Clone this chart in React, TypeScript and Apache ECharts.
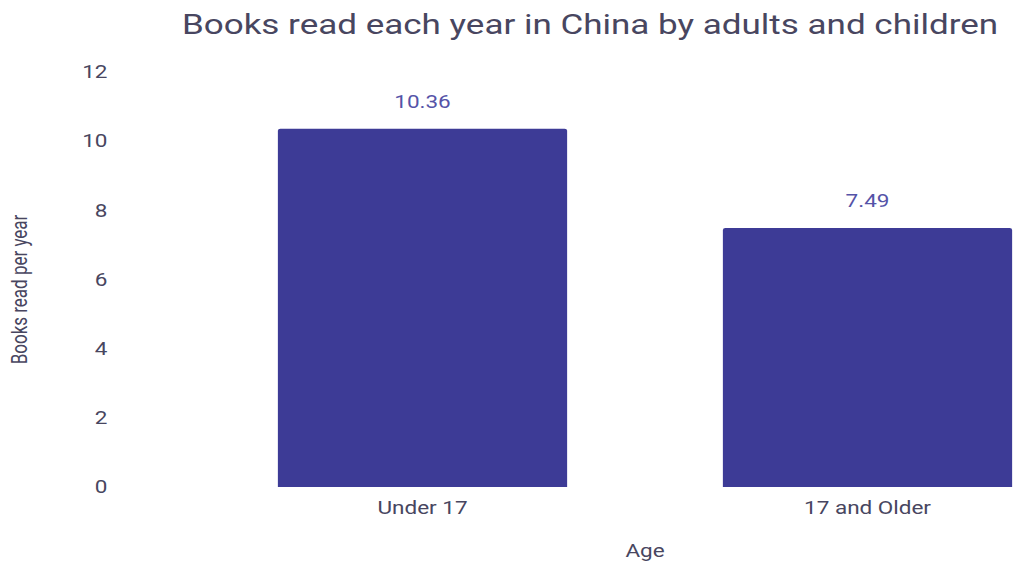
import React, { useEffect, useRef } from "react";
import * as echarts from "echarts";

const categories = ["Under 17", "17 and Older"];
const booksRead = [10.36, 7.49];
const yTicks = { min: 0, max: 12, interval: 2 };

const STRETCH = 1.25;

export default function App() {
  const ref = useRef<HTMLDivElement>(null);
  useEffect(() => {
    const chart = echarts.init(ref.current!, null, { renderer: "svg" });
    const textColor = "#484660";
    chart.setOption({
      animation: false,
      backgroundColor: "#ffffff",
      title: {
        text: "Books read each year in China by adults and children",
        left: 467,
        textAlign: "center",
        top: 6,
        textStyle: { fontFamily: "Roboto", fontSize: 28, fontWeight: "normal", color: textColor },
      },
      grid: { left: 160, right: 8, top: 72, bottom: 76, containLabel: false, outerBoundsMode: "none" },
      xAxis: {
        type: "category",
        data: categories,
        name: "Age",
        nameLocation: "middle",
        nameGap: 55,
        nameTextStyle: { fontFamily: "Roboto", fontSize: 18, color: textColor },
        axisLine: { show: false },
        axisTick: { show: false },
        axisLabel: { fontFamily: "Roboto", fontSize: 18, color: textColor, margin: 12 },
      },
      yAxis: {
        type: "value",
        min: yTicks.min,
        max: yTicks.max,
        interval: yTicks.interval,
        name: "Books read per year",
        nameLocation: "middle",
        nameGap: 136,
        nameTextStyle: { fontFamily: "Roboto", fontSize: 17, color: textColor, padding: [0, 20, 0, 0] },
        splitLine: { show: false },
        axisLine: { show: false },
        axisTick: { show: false },
        axisLabel: { fontFamily: "Roboto", fontSize: 18, color: textColor, margin: 74 },
      },
      series: [
        {
          type: "bar",
          data: booksRead,
          barWidth: "65%",
          itemStyle: { color: "#3d3b96", borderRadius: [2, 2, 0, 0] },
          label: {
            show: true,
            position: "top",
            distance: 18,
            fontFamily: "Roboto",
            fontSize: 18,
            color: "#5553a8",
          },
        },
      ],
    });
    return () => chart.dispose();
  }, []);
  return (
    <div style={{ position: "absolute", left: 0, top: 0, width: 1014, height: 563, overflow: "hidden", background: "#fff" }}>
      <div
        ref={ref}
        style={{ width: 880, height: 563, transform: `scaleX(${STRETCH})`, transformOrigin: "0 0" }}
      />
    </div>
  );
}
